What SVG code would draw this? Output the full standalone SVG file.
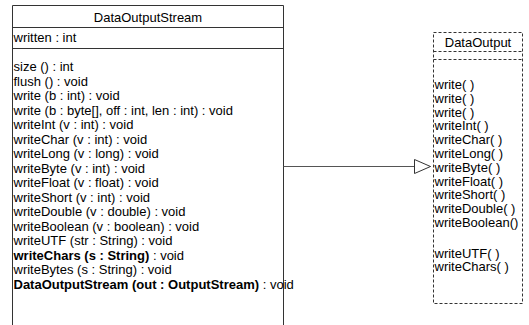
<svg xmlns="http://www.w3.org/2000/svg" width="529" height="325" viewBox="0 0 529 325">
<style>
text{font-family:"Liberation Sans",Arial,sans-serif;font-size:13px;fill:#000}
.b{font-weight:bold}
.box{fill:#fff;stroke:#333;stroke-width:1}
.dash{fill:#fff;stroke:#333;stroke-width:1;stroke-dasharray:3,2}
.dl{stroke:#333;stroke-width:1;stroke-dasharray:3,2;fill:none}
.sl{stroke:#333;stroke-width:1;fill:none}
.conn{stroke:#555;stroke-width:1;fill:none}
</style>
<defs>
<marker id="tri" viewBox="0 0 18 16" refX="17" refY="8" markerWidth="18" markerHeight="16" markerUnits="userSpaceOnUse" orient="auto">
<path d="M1,1 L17,8 L1,15 Z" fill="#fff" stroke="#333" stroke-width="1"/>
</marker>
</defs>
<g id="DataOutputStream">
<path class="box" d="M12.5,330 V5.5 H283.5 V330"/>
<line class="sl" x1="12.5" y1="27.5" x2="283.5" y2="27.5"/>
<line class="sl" x1="12.5" y1="48.5" x2="283.5" y2="48.5"/>
<text x="148" y="22" text-anchor="middle">DataOutputStream</text>
<text x="13.5" y="41.5">written : int</text>
<text x="13.5" y="71">size () : int</text>
<text x="13.5" y="85.5">flush () : void</text>
<text x="13.5" y="100">write (b : int) : void</text>
<text x="13.5" y="114.5">write (b : byte[], off : int, len : int) : void</text>
<text x="13.5" y="129">writeInt (v : int) : void</text>
<text x="13.5" y="143.5">writeChar (v : int) : void</text>
<text x="13.5" y="158">writeLong (v : long) : void</text>
<text x="13.5" y="172.5">writeByte (v : int) : void</text>
<text x="13.5" y="187">writeFloat (v : float) : void</text>
<text x="13.5" y="201.5">writeShort (v : int) : void</text>
<text x="13.5" y="216">writeDouble (v : double) : void</text>
<text x="13.5" y="230.5">writeBoolean (v : boolean) : void</text>
<text x="13.5" y="245">writeUTF (str : String) : void</text>
<text x="13.5" y="259.5"><tspan class="b">writeChars (s : String)</tspan> : void</text>
<text x="13.5" y="274">writeBytes (s : String) : void</text>
<text x="13.5" y="288.5"><tspan class="b">DataOutputStream (out : OutputStream)</tspan> : void</text>
</g>
<g id="DataOutput">
<rect class="dash" x="433.5" y="32.5" width="89" height="271"/>
<line class="dl" x1="433.5" y1="51.5" x2="522.5" y2="51.5"/>
<line class="dl" x1="433.5" y1="59.5" x2="522.5" y2="59.5"/>
<text x="478" y="47" text-anchor="middle">DataOutput</text>
<text x="434.5" y="89">write( )</text>
<text x="434.5" y="102.8">write( )</text>
<text x="434.5" y="116.6">write( )</text>
<text x="434.5" y="130.4">writeInt( )</text>
<text x="434.5" y="144.2">writeChar( )</text>
<text x="434.5" y="158">writeLong( )</text>
<text x="434.5" y="171.8">writeByte( )</text>
<text x="434.5" y="185.6">writeFloat( )</text>
<text x="434.5" y="199.4">writeShort( )</text>
<text x="434.5" y="213.2">writeDouble( )</text>
<text x="434.5" y="227">writeBoolean()</text>
<text x="434.5" y="257.5">writeUTF( )</text>
<text x="434.5" y="271.3">writeChars( )</text>
</g>
<g id="connectors">
<line class="conn" x1="283.5" y1="166.5" x2="430.5" y2="166.5" marker-end="url(#tri)"/>
</g>
</svg>
